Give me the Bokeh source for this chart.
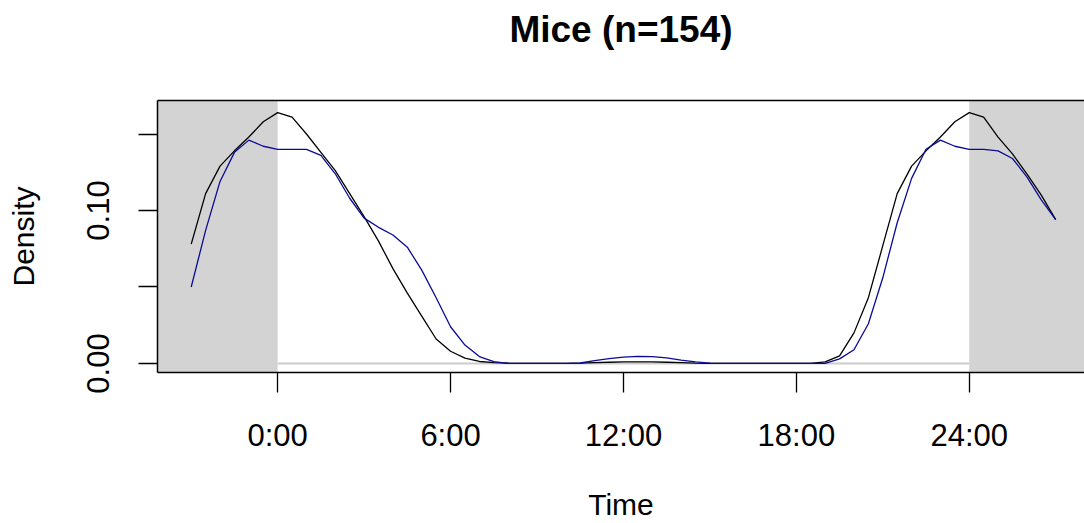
from bokeh.plotting import figure
from bokeh.models import (Range1d, FixedTicker, CustomJSTickFormatter, LinearAxis,
                          BoxAnnotation)
from bokeh.embed import file_html
from bokeh.resources import INLINE

# ---- data (hours, density) ----
time_h = [-3.0, -2.5, -2.0, -1.5, -1.0, -0.5, 0.0, 0.5, 1.0, 1.5, 2.0, 2.5, 3.0, 3.5,
          4.0, 4.5, 5.0, 5.5, 6.0, 6.5, 7.0, 7.5, 8.0, 8.5, 9.0, 9.5, 10.0, 10.5,
          11.0, 11.5, 12.0, 12.5, 13.0, 13.5, 14.0, 14.5, 15.0, 15.5, 16.0, 16.5,
          17.0, 17.5, 18.0, 18.5, 19.0, 19.5, 20.0, 20.5, 21.0, 21.5, 22.0, 22.5,
          23.0, 23.5, 24.0, 24.5, 25.0, 25.5, 26.0, 26.5, 27.0]

density_black = [0.078, 0.111, 0.129, 0.139, 0.148, 0.158, 0.164, 0.161, 0.150, 0.138,
                 0.126, 0.111, 0.096, 0.080, 0.062, 0.046, 0.031, 0.016, 0.008, 0.0035,
                 0.0013, 0.0005, 0.0002, 0.0, 0.0, 0.0, 0.0, 0.0002,
                 0.0005, 0.0008, 0.001, 0.001, 0.001, 0.0008, 0.0005, 0.0002, 0.0, 0.0,
                 0.0, 0.0, 0.0, 0.0, 0.0, 0.0, 0.001, 0.005, 0.020, 0.043, 0.077, 0.111,
                 0.129, 0.139, 0.148, 0.158, 0.164, 0.161, 0.148, 0.137, 0.124, 0.110,
                 0.094]

density_blue = [0.050, 0.087, 0.119, 0.138, 0.146, 0.142, 0.140, 0.140, 0.140, 0.136,
                0.124, 0.108, 0.095, 0.089, 0.084, 0.076, 0.061, 0.043, 0.024, 0.012,
                0.0045, 0.0012, 0.0, 0.0, 0.0, 0.0, 0.0, 0.0003,
                0.0018, 0.0032, 0.0042, 0.0046, 0.0045, 0.0036, 0.0022, 0.001, 0.0002,
                0.0, 0.0, 0.0, 0.0, 0.0, 0.0, 0.0, 0.0, 0.003, 0.009, 0.026, 0.056,
                0.092, 0.121, 0.140, 0.146, 0.142, 0.140, 0.140, 0.139, 0.134, 0.122,
                0.107, 0.094]

x_ticks = [0, 6, 12, 18, 24]
x_tick_labels = ["0:00", "6:00", "12:00", "18:00", "24:00"]
y_ticks = [0.0, 0.05, 0.10, 0.15]
y_tick_labels = ["0.00", "", "0.10", ""]
title_text = "Mice (n=154)"

night_end = 0
night_start = 24

FONT = "Liberation Sans"

p = figure(width=1084, height=523, output_backend="svg", toolbar_location=None,
           x_range=Range1d(-4.17, 28.0), y_range=Range1d(-0.0059, 0.1719),
           min_border_left=157, min_border_right=0, min_border_top=100,
           min_border_bottom=151, x_axis_label="Time", y_axis_label="Density",
           title=None)

p.outline_line_color = None
p.grid.grid_line_color = None
p.background_fill_color = "white"
p.border_fill_color = "white"

# shaded night
p.add_layout(BoxAnnotation(right=night_end, fill_color="#D3D3D3", fill_alpha=1,
                           line_color=None, level="underlay"))
p.add_layout(BoxAnnotation(left=night_start, fill_color="#D3D3D3", fill_alpha=1,
                           line_color=None, level="underlay"))
p.line([night_end, night_start], [0, 0], line_color="#CCCCCC", line_width=2)

p.line(time_h, density_black, line_color="black", line_width=1.3)
p.line(time_h, density_blue, line_color="#0A0A96", line_width=1.3)

fmt_js = ("const i = tvals.findIndex(t => Math.abs(t - tick) < 1e-9);"
          "return i >= 0 ? tlabs[i] : '';")

xa = p.xaxis[0]
xa.ticker = FixedTicker(ticks=x_ticks)
xa.formatter = CustomJSTickFormatter(args=dict(tvals=x_ticks, tlabs=x_tick_labels),
                                     code=fmt_js)
xa.major_tick_out = 20
xa.major_tick_in = 0
xa.minor_tick_out = 0
xa.minor_tick_in = 0
xa.major_label_standoff = 25
xa.axis_label_standoff = 32

ya = p.yaxis[0]
ya.ticker = FixedTicker(ticks=y_ticks)
ya.formatter = CustomJSTickFormatter(args=dict(tvals=y_ticks, tlabs=y_tick_labels),
                                     code=fmt_js)
ya.major_tick_out = 19
ya.major_tick_in = 0
ya.minor_tick_out = 0
ya.minor_tick_in = 0
ya.major_label_orientation = "vertical"
ya.major_label_standoff = 29
ya.axis_label_standoff = 45

for ax in (xa, ya):
    ax.axis_line_color = "black"
    ax.axis_line_width = 1.5
    ax.major_tick_line_color = "black"
    ax.major_tick_line_width = 1.3
    ax.major_label_text_font = FONT
    ax.major_label_text_font_size = "31px"
    ax.major_label_text_color = "black"
    ax.axis_label_text_font = FONT
    ax.axis_label_text_font_size = "30px"
    ax.axis_label_text_font_style = "normal"
    ax.axis_label_text_color = "black"

# top border of the box, carrying the title as its label
top = LinearAxis(ticker=FixedTicker(ticks=[]), major_tick_out=0, major_tick_in=0,
                 minor_tick_out=0, minor_tick_in=0, major_label_text_font_size="0px",
                 major_label_standoff=0, axis_line_color="black", axis_line_width=1.5,
                 axis_label=title_text, axis_label_text_font=FONT,
                 axis_label_text_font_size="37px", axis_label_text_font_style="bold",
                 axis_label_text_color="black", axis_label_standoff=51)
p.add_layout(top, "above")

open("out.html", "w").write(file_html(p, INLINE))
